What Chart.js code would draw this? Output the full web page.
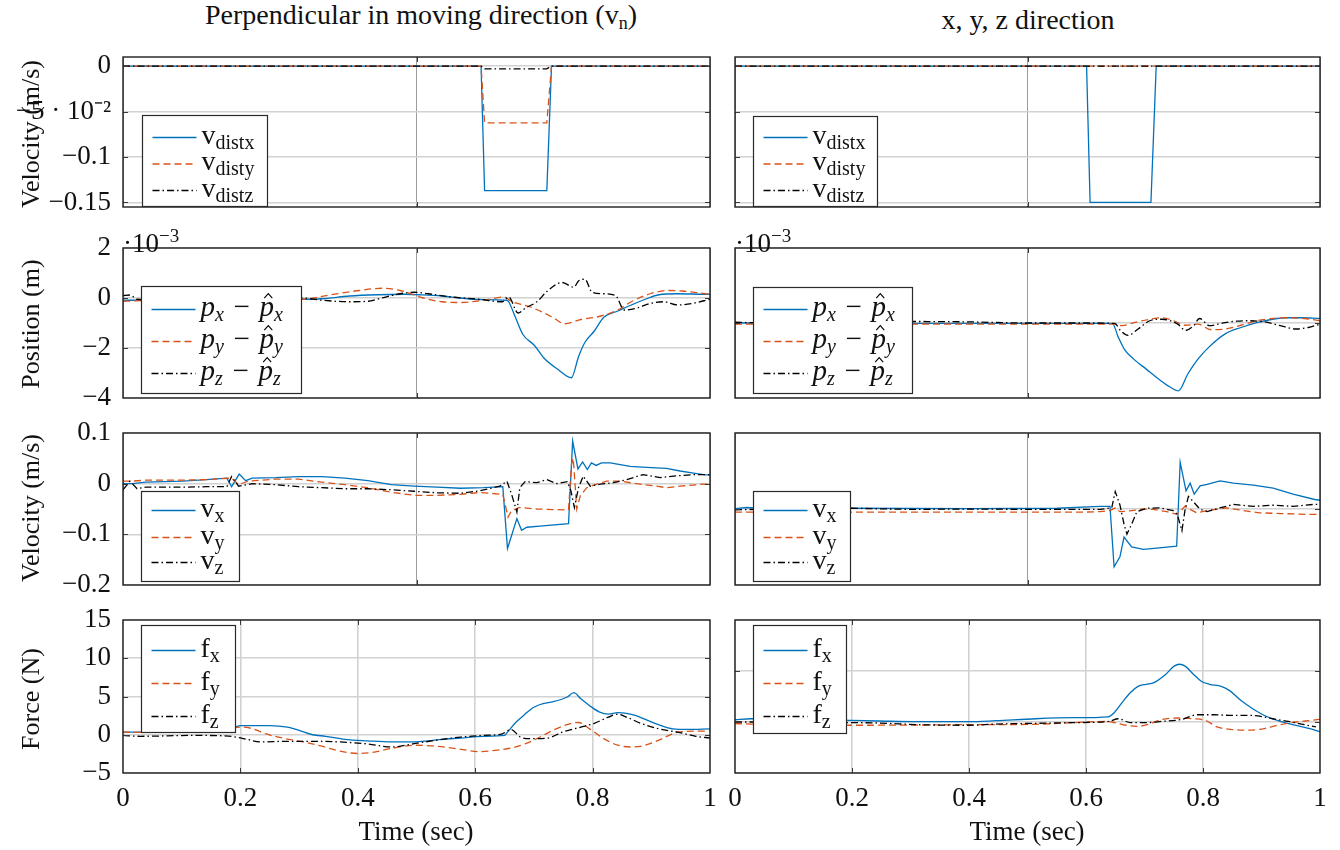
<!DOCTYPE html>
<html>
<head>
<meta charset="utf-8">
<script src="https://cdn.jsdelivr.net/npm/chart.js@4.4.1/dist/chart.umd.min.js"></script>
<style>
  html, body { margin: 0; padding: 0; background: #fff; }
  #fig { position: relative; width: 1340px; height: 850px; overflow: hidden;
         font-family: 'Liberation Serif', 'Times New Roman', serif; color: #111; }
  #fig canvas { position: absolute; }
  .txt { position: absolute; white-space: nowrap; font-size: 27px; line-height: 27px;
         transform: translate(-50%, -50%); }
  .title { font-size: 28px; }
  .ytitle { position: absolute; white-space: nowrap; font-size: 26px; line-height: 26px;
            transform: translate(-50%, -50%) rotate(-90deg); }
  .mult { position: absolute; white-space: nowrap; font-size: 27px; line-height: 27px; }
  .txt sub { font-size: 18px; vertical-align: -5px; }
  .mult sup { font-size: 19px; vertical-align: 10px; }
</style>
</head>
<body>
<div id="fig"></div>
<script>
// ---- data ---------------------------------------------------------------
// row 1: disturbance velocity (m/s)
var tDistL = [0, 0.610, 0.616, 0.722, 0.730, 1];
var vDistxL = [0, 0, -0.137, -0.137, 0, 0];
var vDistyL = [0, 0, -0.0625, -0.0625, 0, 0];
var vDistzL = [0, 0, -0.003, -0.003, 0, 0];
var tDistR = [0, 0.601, 0.607, 0.711, 0.720, 1];
var vDistxR = [0, 0, -0.15, -0.15, 0, 0];
var vDistyR = [0, 0, 0, 0, 0, 0];
var vDistzR = [0, 0, 0, 0, 0, 0];

// row 2: position error (x 10^-3 m)
var tPosxL = [0, 0.016, 0.1, 0.2, 0.303, 0.339, 0.386, 0.433, 0.480, 0.504, 0.543, 0.575, 0.606, 0.654, 0.657, 0.669, 0.681, 0.701, 0.717, 0.740, 0.764, 0.776, 0.787, 0.803, 0.819, 0.843, 0.866, 0.890, 0.913, 0.945, 0.992, 1];
var posxL = [-0.09, -0.09, -0.08, -0.05, -0.05, -0.03, 0.08, 0.13, 0.15, 0.13, 0.08, 0.0, -0.06, -0.09, -0.15, -0.8, -1.45, -1.9, -2.4, -2.84, -3.19, -2.35, -1.77, -1.32, -0.77, -0.52, -0.28, -0.05, 0.13, 0.17, 0.15, 0.15];
var tPosyL = [0, 0.016, 0.1, 0.2, 0.303, 0.354, 0.402, 0.441, 0.472, 0.512, 0.543, 0.575, 0.614, 0.650, 0.661, 0.693, 0.732, 0.752, 0.780, 0.811, 0.843, 0.866, 0.898, 0.929, 0.953, 0.992, 1];
var posyL = [-0.13, -0.12, -0.05, 0.0, -0.05, 0.13, 0.3, 0.39, 0.3, 0.0, -0.15, -0.18, -0.09, 0.04, -0.13, -0.35, -0.77, -1.03, -0.86, -0.74, -0.48, -0.15, 0.17, 0.3, 0.28, 0.17, 0.15];
var tPoszL = [0, 0.012, 0.024, 0.1, 0.2, 0.303, 0.339, 0.386, 0.417, 0.441, 0.472, 0.496, 0.520, 0.559, 0.606, 0.646, 0.657, 0.673, 0.685, 0.705, 0.724, 0.748, 0.768, 0.776, 0.787, 0.799, 0.819, 0.839, 0.854, 0.874, 0.898, 0.921, 0.945, 0.969, 1];
var poszL = [0.1, 0.12, -0.05, -0.1, -0.05, 0.0, -0.09, -0.15, -0.13, 0.0, 0.17, 0.23, 0.17, 0.04, -0.05, -0.15, 0.04, -0.6, -0.41, -0.15, 0.3, 0.62, 0.43, 0.68, 0.75, 0.23, 0.17, 0.1, -0.48, -0.41, -0.22, -0.15, -0.28, -0.22, -0.05];
var tPosxR = [0, 0.03, 0.2, 0.304, 0.4, 0.5, 0.6, 0.645, 0.655, 0.666, 0.682, 0.703, 0.723, 0.743, 0.758, 0.774, 0.791, 0.811, 0.838, 0.865, 0.892, 0.919, 0.946, 0.966, 1];
var posxR = [0, 0, -0.01, -0.01, -0.01, -0.01, -0.01, -0.01, -0.37, -0.71, -0.97, -1.23, -1.48, -1.70, -1.81, -1.36, -0.97, -0.63, -0.29, -0.12, 0.01, 0.1, 0.14, 0.14, 0.12];
var tPosyR = [0, 0.03, 0.3, 0.5, 0.649, 0.662, 0.682, 0.709, 0.730, 0.750, 0.770, 0.791, 0.814, 0.838, 0.865, 0.892, 0.919, 0.946, 0.973, 1];
var posyR = [-0.03, -0.03, -0.03, -0.03, -0.03, -0.07, 0.01, 0.1, 0.14, 0.06, -0.06, -0.03, -0.18, -0.16, -0.06, 0.06, 0.12, 0.14, 0.12, 0.06];
var tPoszR = [0, 0.03, 0.3, 0.4, 0.5, 0.6, 0.649, 0.659, 0.672, 0.689, 0.709, 0.730, 0.757, 0.770, 0.784, 0.794, 0.811, 0.831, 0.851, 0.878, 0.905, 0.932, 0.959, 0.980, 1];
var poszR = [0.02, 0.01, 0.04, 0.03, 0.0, 0.0, -0.01, -0.2, -0.33, -0.16, 0.06, 0.1, -0.03, -0.2, -0.07, 0.12, -0.07, -0.01, 0.04, 0.06, 0.03, -0.07, -0.16, -0.12, -0.03];

// row 3: velocity (m/s)
var tVelxL = [0, 0.016, 0.039, 0.102, 0.142, 0.177, 0.185, 0.198, 0.209, 0.220, 0.260, 0.299, 0.339, 0.378, 0.417, 0.457, 0.496, 0.535, 0.575, 0.614, 0.647, 0.655, 0.671, 0.679, 0.688, 0.710, 0.759, 0.766, 0.775, 0.783, 0.791, 0.798, 0.806, 0.815, 0.830, 0.864, 0.892, 0.926, 0.949, 0.972, 0.989, 1];
var velxL = [0, 0, 0.003, 0.005, 0.008, 0.011, -0.006, 0.019, 0.006, 0.011, 0.012, 0.014, 0.014, 0.011, 0.006, -0.002, -0.005, -0.007, -0.009, -0.008, -0.006, -0.128, -0.069, -0.092, -0.086, -0.084, -0.079, 0.084, 0.029, 0.043, 0.028, 0.041, 0.036, 0.041, 0.041, 0.034, 0.032, 0.030, 0.025, 0.021, 0.018, 0.017];
var tVelyL = [0, 0.016, 0.039, 0.102, 0.142, 0.185, 0.197, 0.213, 0.260, 0.299, 0.339, 0.378, 0.417, 0.457, 0.496, 0.535, 0.575, 0.608, 0.647, 0.656, 0.662, 0.676, 0.705, 0.759, 0.764, 0.767, 0.773, 0.779, 0.790, 0.807, 0.824, 0.847, 0.875, 0.909, 0.926, 0.949, 0.989, 1];
var velyL = [0.005, 0.005, 0.007, 0.007, 0.008, 0.011, -0.002, 0.005, 0.009, 0.009, 0.003, -0.002, -0.008, -0.017, -0.023, -0.023, -0.021, -0.0175, -0.021, -0.066, -0.053, -0.047, -0.05, -0.052, 0.038, 0.05, -0.05, -0.024, -0.008, -0.001, 0.005, 0.005, 0, -0.005, -0.008, -0.005, -0.001, -0.001];
var tVelzL = [0, 0.012, 0.024, 0.039, 0.102, 0.142, 0.177, 0.185, 0.197, 0.220, 0.260, 0.299, 0.339, 0.378, 0.417, 0.457, 0.496, 0.535, 0.575, 0.608, 0.642, 0.654, 0.662, 0.671, 0.676, 0.685, 0.705, 0.722, 0.739, 0.757, 0.763, 0.769, 0.776, 0.784, 0.796, 0.813, 0.836, 0.858, 0.886, 0.915, 0.938, 0.972, 1];
var velzL = [-0.012, 0.005, -0.01, -0.007, -0.007, -0.006, -0.006, 0.014, -0.005, 0.0, -0.002, -0.006, -0.008, -0.01, -0.01, -0.012, -0.015, -0.018, -0.019, -0.014, -0.005, 0.005, -0.021, -0.056, -0.008, 0.004, 0.002, 0.008, 0, 0.004, -0.014, -0.047, -0.008, 0.015, -0.005, -0.001, 0.002, 0.008, 0.018, 0.012, 0.015, 0.018, 0.018];
var tVelxR = [0, 0.02, 0.04, 0.2, 0.4, 0.55, 0.624, 0.641, 0.648, 0.658, 0.665, 0.678, 0.698, 0.721, 0.755, 0.761, 0.771, 0.778, 0.785, 0.795, 0.807, 0.829, 0.852, 0.886, 0.920, 0.954, 0.991, 1];
var velxR = [0.001, 0.004, 0.002, 0.002, 0.001, 0.002, 0.007, 0.007, -0.152, -0.126, -0.074, -0.1, -0.106, -0.103, -0.098, 0.123, 0.048, 0.068, 0.039, 0.061, 0.065, 0.074, 0.068, 0.063, 0.055, 0.039, 0.025, 0.023];
var tVelyR = [0, 0.2, 0.4, 0.6, 0.624, 0.641, 0.650, 0.658, 0.675, 0.698, 0.715, 0.738, 0.755, 0.761, 0.769, 0.778, 0.789, 0.807, 0.840, 0.869, 0.897, 0.932, 0.977, 1];
var velyR = [-0.008, -0.008, -0.008, -0.008, -0.007, -0.004, 0.003, -0.007, -0.005, 0.0, -0.001, -0.007, -0.014, -0.007, 0.007, -0.001, -0.01, -0.004, 0.003, -0.004, -0.01, -0.012, -0.014, -0.014];
var tVelzR = [0, 0.1, 0.2, 0.3, 0.4, 0.5, 0.6, 0.624, 0.644, 0.650, 0.658, 0.665, 0.670, 0.678, 0.687, 0.704, 0.726, 0.749, 0.756, 0.764, 0.769, 0.775, 0.783, 0.795, 0.807, 0.829, 0.852, 0.886, 0.920, 0.954, 0.989, 1];
var velzR = [-0.002, 0.001, 0.002, -0.001, 0.0, -0.001, -0.001, -0.001, 0.003, 0.046, 0.011, -0.04, -0.066, -0.04, -0.007, 0.002, 0.003, -0.004, -0.014, -0.057, -0.005, 0.033, 0.02, -0.001, -0.007, 0.003, 0.012, 0.007, 0.01, 0.007, 0.012, 0.012];

// row 4: force (N)
var tFxL = [0, 0.03, 0.1, 0.19, 0.2, 0.25, 0.28, 0.30, 0.323, 0.345, 0.378, 0.417, 0.457, 0.496, 0.52, 0.543, 0.575, 0.614, 0.650, 0.655, 0.669, 0.685, 0.70, 0.717, 0.732, 0.756, 0.768, 0.780, 0.795, 0.811, 0.827, 0.843, 0.858, 0.874, 0.89, 0.913, 0.937, 0.961, 1.0];
var fxL = [0.34, 0.34, 0.6, 1.0, 1.2, 1.2, 1.0, 0.56, 0.0, -0.2, -0.6, -0.8, -0.94, -0.94, -0.8, -0.6, -0.43, -0.2, -0.09, 0.34, 1.6, 2.7, 3.6, 4.1, 4.3, 4.9, 5.5, 4.7, 3.8, 3.0, 2.7, 2.9, 2.8, 2.5, 2.0, 1.3, 0.77, 0.69, 0.77];
var tFyL = [0, 0.03, 0.1, 0.18, 0.205, 0.22, 0.244, 0.276, 0.307, 0.339, 0.37, 0.40, 0.425, 0.457, 0.496, 0.535, 0.575, 0.606, 0.638, 0.669, 0.70, 0.732, 0.764, 0.776, 0.795, 0.819, 0.843, 0.866, 0.89, 0.913, 0.945, 0.976, 1.0];
var fyL = [0.34, 0.3, 0.5, 0.86, 1.0, 0.8, 0.1, -0.5, -0.94, -1.5, -2.15, -2.45, -2.3, -1.8, -1.37, -1.5, -1.9, -2.2, -2.0, -1.6, -0.7, 0.56, 1.5, 1.6, 0.77, -0.5, -1.37, -1.6, -1.37, -0.7, 0.34, 0.47, 0.47];
var tFzL = [0, 0.03, 0.12, 0.18, 0.205, 0.236, 0.276, 0.33, 0.37, 0.417, 0.457, 0.496, 0.535, 0.575, 0.614, 0.646, 0.661, 0.677, 0.693, 0.724, 0.748, 0.78, 0.803, 0.827, 0.843, 0.858, 0.882, 0.913, 0.945, 0.976, 1.0];
var fzL = [-0.09, -0.2, -0.09, -0.17, -0.5, -0.94, -0.86, -0.86, -0.94, -1.2, -1.6, -1.16, -0.7, -0.3, -0.09, 0.13, 0.69, -0.3, -0.5, -0.43, 0.34, 1.0, 1.5, 2.3, 2.7, 2.3, 1.5, 0.77, 0.34, -0.2, -0.43];
var tFxR = [0, 0.027, 0.1, 0.197, 0.245, 0.312, 0.4, 0.446, 0.514, 0.58, 0.638, 0.649, 0.662, 0.676, 0.689, 0.703, 0.716, 0.736, 0.75, 0.76, 0.77, 0.784, 0.797, 0.811, 0.831, 0.845, 0.865, 0.885, 0.905, 0.932, 0.959, 0.986, 1.0];
var fxR = [0.22, 0.32, 0.25, 0.16, 0.1, 0.03, 0.03, 0.13, 0.32, 0.42, 0.51, 0.96, 1.93, 2.9, 3.5, 3.7, 3.86, 4.66, 5.45, 5.66, 5.45, 4.66, 4.0, 3.7, 3.5, 3.1, 2.1, 1.3, 0.64, 0.06, -0.32, -0.7, -0.95];
var tFyR = [0, 0.027, 0.197, 0.3, 0.4, 0.5, 0.58, 0.635, 0.649, 0.669, 0.689, 0.71, 0.73, 0.757, 0.784, 0.804, 0.824, 0.851, 0.878, 0.905, 0.932, 0.959, 0.986, 1.0];
var fyR = [-0.16, -0.2, -0.32, -0.3, -0.26, -0.24, -0.06, 0.06, -0.06, -0.32, -0.42, -0.16, 0.26, 0.39, 0.32, 0.16, -0.48, -0.74, -0.8, -0.64, -0.26, 0.0, 0.16, 0.26];
var tFzR = [0, 0.027, 0.197, 0.245, 0.312, 0.4, 0.446, 0.514, 0.58, 0.639, 0.655, 0.676, 0.703, 0.73, 0.764, 0.79, 0.818, 0.851, 0.885, 0.919, 0.946, 0.973, 0.993];
var fzR = [0, 0, -0.06, -0.1, -0.26, -0.32, -0.2, -0.13, -0.06, 0.06, 0.32, -0.06, -0.06, 0.06, 0.26, 0.71, 0.71, 0.64, 0.64, 0.32, 0.06, -0.26, -0.48];

// ticks
var timeTicks = [0, 0.2, 0.4, 0.6, 0.8, 1];
var timeTickLabels = ['0', '0.2', '0.4', '0.6', '0.8', '1'];
var midTicks = [0, 0.5, 1];
var distTicks = [0, -0.05, -0.1, -0.15];
var distTickLabels = ['0', '\u22125 \u00b7 10\u207b\u00b2', '\u22120.1', '\u22120.15'];
var posTicksL = [2, 0, -2, -4];
var posTickLabelsL = ['2', '0', '\u22122', '\u22124'];
var posTicksR = [2, 0, -2];
var velTicksL = [0.1, 0, -0.1, -0.2];
var velTickLabelsL = ['0.1', '0', '\u22120.1', '\u22120.2'];
var velTicksR = [0.2, 0, -0.2];
var forceTicksL = [15, 10, 5, 0, -5];
var forceTickLabelsL = ['15', '10', '5', '0', '\u22125'];
var forceTicksR = [10, 5, 0, -5];

// ---- drawing -------------------------------------------------------------
var FONT = "'Liberation Serif', 'Times New Roman', serif";
var TICK_SIZE = 27;
var BLUE = '#0072bd', ORANGE = '#d95319', BLACK = '#000000';
var DASH_Y = [7, 4], DASH_Z = [7, 3, 1.5, 3];
var MT = 16, MR = 14;
var fig = document.getElementById('fig');

function pts(t, y) {
  return t.map(function (v, i) { return { x: v, y: y[i] }; });
}

// runs: [text, kind]  kind n=normal, s=subscript, i=italic, si=italic subscript, h=italic with hat
function drawRuns(ctx, x, y, runs, size) {
  runs.forEach(function (r) {
    var k = r[1];
    var sub = (k === 's' || k === 'si');
    var fs = sub ? Math.round(size * 0.7) : size;
    var it = (k === 'i' || k === 'si' || k === 'h') ? 'italic ' : '';
    ctx.font = it + fs + 'px ' + FONT;
    ctx.fillText(r[0], x, sub ? y + 5 : y);
    var w = ctx.measureText(r[0]).width;
    if (k === 'h') {
      var cx = x + w * 0.6, top = y - size * 0.6;
      ctx.beginPath();
      ctx.moveTo(cx - 4, top);
      ctx.lineTo(cx, top - 4.5);
      ctx.lineTo(cx + 4, top);
      ctx.lineWidth = 1.1;
      ctx.strokeStyle = '#000';
      ctx.stroke();
    }
    x += w;
  });
}

function decoPlugin(cfg) {
  return {
    id: 'deco',
    afterDatasetsDraw: function (chart) {
      var ctx = chart.ctx, a = chart.chartArea;
      ctx.save();
      // inward tick marks on all four sides
      ctx.strokeStyle = '#3a3a3a';
      ctx.lineWidth = 1;
      chart.scales.y.ticks.forEach(function (tk) {
        var py = Math.round(chart.scales.y.getPixelForValue(tk.value)) + 0.5;
        if (py <= a.top + 1 || py >= a.bottom - 1) return;
        ctx.beginPath();
        ctx.moveTo(a.left, py); ctx.lineTo(a.left + 5, py);
        ctx.moveTo(a.right, py); ctx.lineTo(a.right - 5, py);
        ctx.stroke();
      });
      chart.scales.x.ticks.forEach(function (tk) {
        var px = Math.round(chart.scales.x.getPixelForValue(tk.value)) + 0.5;
        if (px <= a.left + 1 || px >= a.right - 1) return;
        ctx.beginPath();
        ctx.moveTo(px, a.bottom); ctx.lineTo(px, a.bottom - 5);
        ctx.moveTo(px, a.top); ctx.lineTo(px, a.top + 5);
        ctx.stroke();
      });
      // axis box
      ctx.strokeStyle = '#1e1e1e';
      ctx.lineWidth = 1.4;
      ctx.strokeRect(a.left, a.top, a.right - a.left, a.bottom - a.top);
      // legend
      var L = cfg.legend;
      var bx = Math.round(a.left + L.x) + 0.5, by = Math.round(a.top + L.y) + 0.5;
      ctx.fillStyle = '#ffffff';
      ctx.fillRect(bx, by, L.w, L.h);
      ctx.strokeStyle = '#2a2a2a';
      ctx.lineWidth = 1.2;
      ctx.strokeRect(bx, by, L.w, L.h);
      chart.data.datasets.forEach(function (ds, i) {
        var ly = by + L.rows[i];
        ctx.strokeStyle = ds.borderColor;
        ctx.lineWidth = 1.3;
        ctx.setLineDash(ds.borderDash || []);
        ctx.beginPath();
        ctx.moveTo(bx + 10, ly); ctx.lineTo(bx + 54, ly);
        ctx.stroke();
        ctx.setLineDash([]);
        ctx.fillStyle = '#111';
        drawRuns(ctx, bx + 59, ly + 6, cfg.names[i], L.size);
      });
      ctx.restore();
    }
  };
}

function panel(p) {
  var ml = p.col.ml, mb = p.mb || 12;
  var w = ml + p.col.width + MR, h = MT + p.row.h + mb;
  var cv = document.createElement('canvas');
  cv.width = w; cv.height = h;
  cv.style.left = (p.col.left - ml) + 'px';
  cv.style.top = (p.row.top - MT) + 'px';
  cv.style.width = w + 'px'; cv.style.height = h + 'px';
  fig.appendChild(cv);

  var styles = [
    { c: BLUE, d: [], o: 2 },
    { c: ORANGE, d: DASH_Y, o: 1 },
    { c: BLACK, d: DASH_Z, o: 0 }
  ];
  var datasets = p.series.map(function (s, i) {
    return {
      data: pts(s[0], s[1]),
      borderColor: styles[i].c,
      borderDash: styles[i].d,
      order: styles[i].o,
      borderWidth: 1.3,
      pointRadius: 0,
      fill: false,
      tension: 0,
      cubicInterpolationMode: p.smooth ? 'monotone' : 'default'
    };
  });

  return new Chart(cv.getContext('2d'), {
    type: 'line',
    data: { datasets: datasets },
    options: {
      responsive: false,
      animation: false,
      devicePixelRatio: 1,
      layout: { padding: { top: MT, right: MR, left: 0, bottom: 0 } },
      plugins: { legend: { display: false }, tooltip: { enabled: false } },
      scales: {
        x: {
          type: 'linear', min: 0, max: 1,
          border: { display: false },
          grid: { color: p.xGridColor, lineWidth: p.xGridWidth, drawTicks: false },
          ticks: {
            display: !!p.xLabels, autoSkip: false, maxRotation: 0, padding: 10,
            color: '#111', font: { family: FONT, size: TICK_SIZE },
            callback: function (v, i) { return p.xLabels ? p.xLabels[i] : ''; }
          },
          afterBuildTicks: function (s) { s.ticks = p.xTicks.map(function (v) { return { value: v }; }); },
          afterFit: function (s) { s.height = mb; s.paddingLeft = 0; s.paddingRight = 0; }
        },
        y: {
          type: 'linear', min: p.yMin, max: p.yMax,
          border: { display: false },
          grid: { color: '#d2d2d2', lineWidth: 1.6, drawTicks: false },
          ticks: {
            display: !!p.yLabels, autoSkip: false, padding: 12,
            color: '#111', font: { family: FONT, size: TICK_SIZE },
            callback: function (v, i) { return p.yLabels ? p.yLabels[i] : ''; }
          },
          afterBuildTicks: function (s) { s.ticks = p.yTicks.map(function (v) { return { value: v }; }); },
          afterFit: function (s) { s.width = ml; s.paddingTop = 0; s.paddingBottom = 0; }
        }
      }
    },
    plugins: [decoPlugin({ legend: p.legend, names: p.names })]
  });
}

var COL_L = { left: 123, width: 587, ml: 123 };
var COL_R = { left: 735, width: 585, ml: 10 };
var ROWS = [
  { top: 57, h: 150 },
  { top: 248, h: 150 },
  { top: 433, h: 152 },
  { top: 620, h: 153 }
];

var SP = '\u2004';
var namesDist = [[['v', 'n'], ['distx', 's']], [['v', 'n'], ['disty', 's']], [['v', 'n'], ['distz', 's']]];
var namesPos = [
  [['p', 'i'], ['x', 'si'], [SP + '\u2212' + SP, 'n'], ['p', 'h'], ['x', 'si']],
  [['p', 'i'], ['y', 'si'], [SP + '\u2212' + SP, 'n'], ['p', 'h'], ['y', 'si']],
  [['p', 'i'], ['z', 'si'], [SP + '\u2212' + SP, 'n'], ['p', 'h'], ['z', 'si']]
];
var namesVel = [[['v', 'n'], ['x', 's']], [['v', 'n'], ['y', 's']], [['v', 'n'], ['z', 's']]];
var namesForce = [[['f', 'n'], ['x', 's']], [['f', 'n'], ['y', 's']], [['f', 'n'], ['z', 's']]];

var GRID_MID = '#9c9c9c', GRID_LIGHT = '#d2d2d2';

// row 1
panel({ col: COL_L, row: ROWS[0], yMin: -0.155, yMax: 0.01, yTicks: distTicks, yLabels: distTickLabels,
  xTicks: midTicks, xGridColor: GRID_MID, xGridWidth: 1,
  series: [[tDistL, vDistxL], [tDistL, vDistyL], [tDistL, vDistzL]], names: namesDist,
  legend: { x: 19, y: 58, w: 125, h: 91, rows: [22, 48.5, 75], size: 28 } });
panel({ col: COL_R, row: ROWS[0], yMin: -0.155, yMax: 0.01, yTicks: distTicks,
  xTicks: midTicks, xGridColor: GRID_MID, xGridWidth: 1,
  series: [[tDistR, vDistxR], [tDistR, vDistyR], [tDistR, vDistzR]], names: namesDist,
  legend: { x: 18, y: 59, w: 124, h: 90, rows: [21, 47.5, 74], size: 28 } });

// row 2
panel({ col: COL_L, row: ROWS[1], yMin: -4, yMax: 2, yTicks: posTicksL, yLabels: posTickLabelsL,
  xTicks: midTicks, xGridColor: GRID_MID, xGridWidth: 1, smooth: true,
  series: [[tPosxL, posxL], [tPosyL, posyL], [tPoszL, poszL]], names: namesPos,
  legend: { x: 18, y: 38, w: 160, h: 107, rows: [23, 55, 87], size: 29 } });
panel({ col: COL_R, row: ROWS[1], yMin: -2, yMax: 2, yTicks: posTicksR,
  xTicks: midTicks, xGridColor: GRID_MID, xGridWidth: 1, smooth: true,
  series: [[tPosxR, posxR], [tPosyR, posyR], [tPoszR, poszR]], names: namesPos,
  legend: { x: 18, y: 39, w: 159, h: 106, rows: [22, 54, 86], size: 29 } });

// row 3
panel({ col: COL_L, row: ROWS[2], yMin: -0.2, yMax: 0.1, yTicks: velTicksL, yLabels: velTickLabelsL,
  xTicks: midTicks, xGridColor: GRID_MID, xGridWidth: 1,
  series: [[tVelxL, velxL], [tVelyL, velyL], [tVelzL, velzL]], names: namesVel,
  legend: { x: 18, y: 58, w: 98, h: 90, rows: [19, 46, 71], size: 28 } });
panel({ col: COL_R, row: ROWS[2], yMin: -0.2, yMax: 0.2, yTicks: velTicksR,
  xTicks: midTicks, xGridColor: GRID_MID, xGridWidth: 1,
  series: [[tVelxR, velxR], [tVelyR, velyR], [tVelzR, velzR]], names: namesVel,
  legend: { x: 18, y: 58, w: 97, h: 90, rows: [19, 46, 71], size: 28 } });

// row 4
panel({ col: COL_L, row: ROWS[3], mb: 46, yMin: -5, yMax: 15, yTicks: forceTicksL, yLabels: forceTickLabelsL,
  xTicks: timeTicks, xLabels: timeTickLabels, xGridColor: GRID_LIGHT, xGridWidth: 1.6, smooth: true,
  series: [[tFxL, fxL], [tFyL, fyL], [tFzL, fzL]], names: namesForce,
  legend: { x: 18, y: 5, w: 94, h: 107, rows: [25, 58, 91], size: 28 } });
panel({ col: COL_R, row: ROWS[3], mb: 46, yMin: -5, yMax: 10, yTicks: forceTicksR,
  xTicks: timeTicks, xLabels: timeTickLabels, xGridColor: GRID_LIGHT, xGridWidth: 1.6, smooth: true,
  series: [[tFxR, fxR], [tFyR, fyR], [tFzR, fzR]], names: namesForce,
  legend: { x: 18, y: 5, w: 93, h: 108, rows: [25, 58, 91], size: 28 } });

// ---- text ---------------------------------------------------------------
function addText(cls, html, x, y) {
  var d = document.createElement('div');
  d.className = cls;
  d.innerHTML = html;
  d.style.left = x + 'px';
  d.style.top = y + 'px';
  fig.appendChild(d);
}
addText('txt title', 'Perpendicular in moving direction (v<sub>n</sub>)', 421, 19);
addText('txt title', 'x, y, z direction', 1028, 19);
addText('ytitle', 'Velocity (m/s)', 31, 134);
addText('ytitle', 'Position (m)', 31, 324);
addText('ytitle', 'Velocity (m/s)', 31, 508);
addText('ytitle', 'Force (N)', 31, 699);
addText('txt', 'Time (sec)', 416, 831);
addText('txt', 'Time (sec)', 1027, 831);
addText('mult', '\u00b710<sup>\u22123</sup>', 123, 222);
addText('mult', '\u00b710<sup>\u22123</sup>', 735, 222);
</script>
</body>
</html>
